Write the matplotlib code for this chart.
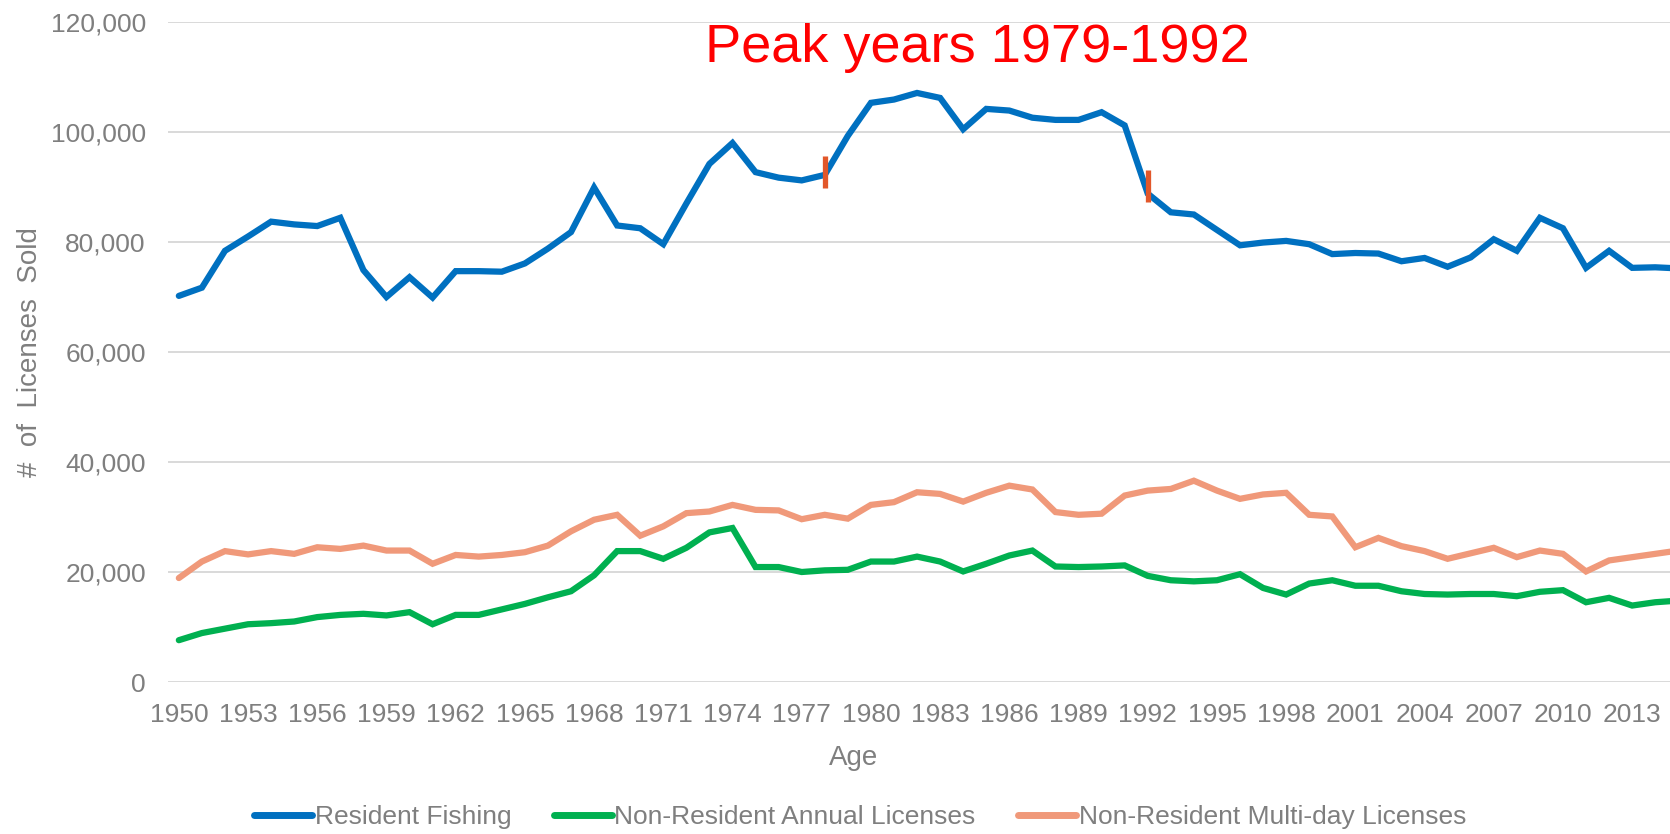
import matplotlib
matplotlib.use("Agg")
import matplotlib.pyplot as plt
from matplotlib import font_manager
from matplotlib.ticker import FuncFormatter, FixedLocator

years = list(range(1950, 2016))

resident_fishing = [
    70200, 71700, 78400, 81000, 83700, 83200, 82900, 84400, 74900, 70000,
    73600, 69900, 74700, 74700, 74600, 76100, 78800, 81800, 89900, 83000,
    82500, 79600, 87000, 94200, 98000, 92700, 91700, 91200, 92200, 99300,
    105300, 105900, 107100, 106200, 100500, 104200, 103900, 102600, 102200, 102200,
    103600, 101200, 88800, 85400, 85000, 82200, 79400, 79900, 80200, 79600,
    77800, 78000, 77900, 76500, 77100, 75500, 77200, 80500, 78400, 84400,
    82500, 75300, 78400, 75300, 75400, 75200,
]
nonres_annual = [
    7600, 8900, 9700, 10500, 10700, 11000, 11800, 12200, 12400, 12100,
    12700, 10500, 12200, 12200, 13200, 14200, 15400, 16500, 19400, 23800,
    23800, 22400, 24400, 27200, 28000, 20900, 20900, 20000, 20300, 20400,
    21900, 21900, 22800, 21900, 20100, 21500, 23000, 23900, 21000, 20900,
    21000, 21200, 19300, 18500, 18300, 18500, 19600, 17100, 15900, 17900,
    18500, 17500, 17500, 16500, 16000, 15900, 16000, 16000, 15600, 16400,
    16700, 14500, 15300, 13900, 14500, 14800,
]
nonres_multiday = [
    18900, 21900, 23800, 23200, 23800, 23300, 24500, 24200, 24800, 23900,
    23900, 21500, 23100, 22800, 23100, 23600, 24800, 27400, 29500, 30400,
    26600, 28300, 30700, 31000, 32200, 31300, 31200, 29600, 30400, 29700,
    32200, 32700, 34500, 34200, 32800, 34400, 35700, 35000, 30900, 30400,
    30600, 33900, 34800, 35100, 36600, 34800, 33300, 34100, 34400, 30400,
    30100, 24500, 26200, 24700, 23800, 22400, 23400, 24400, 22700, 23900,
    23300, 20100, 22100, 22700, 23300, 23900,
]
series_names = ["Resident Fishing", "Non-Resident Annual Licenses",
                "Non-Resident Multi-day Licenses"]

marker_years = [1978, 1992]
marker_low = [89900, 87200]
marker_high = [95700, 93000]

xtick_labels = list(range(1950, 2014, 3))
ytick_values = [0, 20000, 40000, 60000, 80000, 100000, 120000]
title_text = "Peak years 1979-1992"

names = {f.name for f in font_manager.fontManager.ttflist}
narrow = "Liberation Sans Narrow" if "Liberation Sans Narrow" in names else "Liberation Sans"
regular = "Liberation Sans"
grey = "#7f7f7f"

fig = plt.figure(figsize=(16.70, 8.34), dpi=100)
ax = fig.add_axes([168 / 1670, 152 / 834, 1 - 168 / 1670, 660 / 834])

colors = ["#0070c0", "#00b050", "#f0997a"]
for vals, name, c in zip([resident_fishing, nonres_annual, nonres_multiday], series_names, colors):
    ax.plot(years, vals, color=c, lw=4.5, label=name, solid_joinstyle="miter",
            solid_capstyle="round", zorder=3)

ax.vlines(marker_years, marker_low, marker_high, colors="#e2572a", lw=3.8, zorder=4)

ax.set_xlim(1949.53, 2014.64)
ax.set_ylim(0, 120000)
ax.xaxis.set_major_locator(FixedLocator(xtick_labels))
ax.set_xticklabels([str(y) for y in xtick_labels])
ax.set_yticks(ytick_values)
ax.yaxis.set_major_formatter(FuncFormatter(lambda v, p: f"{int(v):,}"))
ax.tick_params(axis="both", length=0, labelcolor=grey, labelsize=19)
ax.tick_params(axis="x", pad=15)
ax.tick_params(axis="y", pad=16)
for lab in ax.get_xticklabels() + ax.get_yticklabels():
    lab.set_fontfamily(narrow)

ax.grid(axis="y", color="#d9d9d9", lw=1.4, zorder=0)
ax.set_axisbelow(True)
for s in ax.spines.values():
    s.set_visible(False)

ax.set_xlabel("Age", fontsize=20, color=grey, family=narrow)
ax.xaxis.set_label_coords((854 - 168) / (1670 - 168), -(758 - 682) / 660)
ax.xaxis.label.set_va("center")
ax.set_ylabel("#  of  Licenses  Sold", fontsize=20, color=grey, family=narrow)
ax.yaxis.set_label_coords(-(168 - 30) / (1670 - 168), 0.5)
ax.yaxis.label.set_va("center")

fig.text(977 / 1670, (834 - 62) / 834, title_text, color="#ff0000", fontsize=39,
         family=regular, ha="center", va="baseline")

leg = fig.legend(loc="center", bbox_to_anchor=(860 / 1670, 17 / 834), ncol=3,
                 frameon=False, handlelength=2.2, handletextpad=0.1,
                 columnspacing=1.6, prop={"family": narrow, "size": 19})
for t in leg.get_texts():
    t.set_color(grey)
for h in leg.legend_handles:
    h.set_linewidth(5)

fig.savefig("out.png", dpi=100)
